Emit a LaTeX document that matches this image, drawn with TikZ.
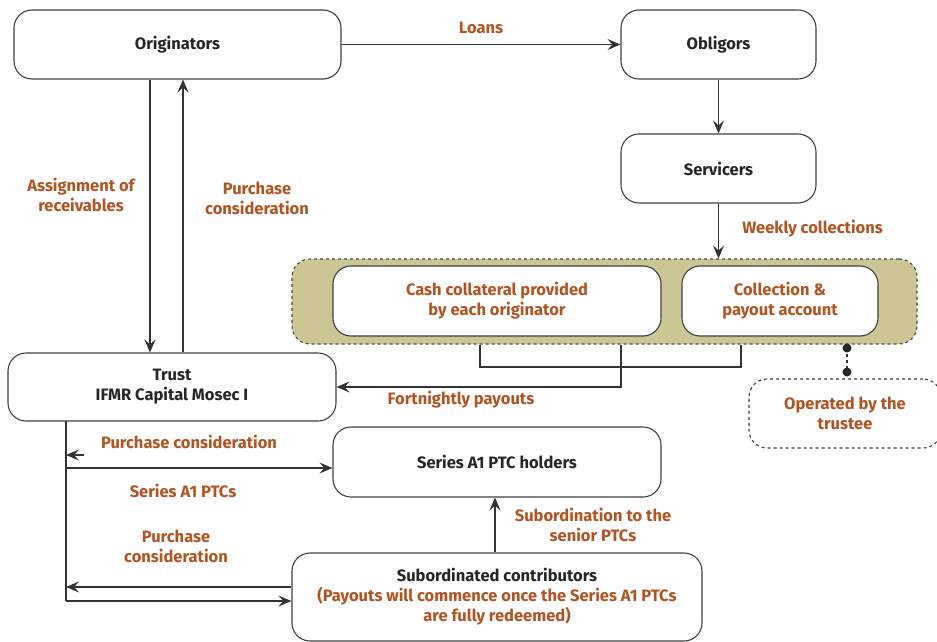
\documentclass[tikz,border=0pt]{standalone}
\usepackage{fontspec}
\setmainfont{Fira Sans}
\usetikzlibrary{arrows.meta}
\definecolor{brn}{HTML}{B4531F}
\definecolor{olv}{HTML}{CBC693}

\begin{document}
\begin{tikzpicture}[x=1pt, y=-1pt, >={Stealth[length=13pt, width=11pt, inset=5pt]}, line width=1.1pt, draw=black!80,
    box/.style={draw=black!75, rounded corners=18pt, fill=white, align=center, inner sep=0pt,
      font=\bfseries\fontsize{16.5}{20}\selectfont, text=black!85},
    lbl/.style={font=\bfseries\fontsize{16.5}{20}\selectfont, text=brn, align=center}]
        \useasboundingbox (0,0) rectangle (937,642);
        \node[draw=black!70, dashed, fill=olv, rounded corners=18pt, minimum width=625pt, minimum height=85pt] (pool) at (604.5,301.5) {};
        \node[box, minimum width=327pt, minimum height=69pt] (orig) at (177.5,44.5) {Originators};
        \node[box, minimum width=195pt, minimum height=69pt] (obl) at (718.5,44.5) {Obligors};
        \node[box, minimum width=195pt, minimum height=69pt] (serv) at (718.5,168.5) {Servicers};
        \node[box, text=brn, minimum width=328pt, minimum height=70pt] (cash) at (497,301) {Cash collateral provided\\by each originator};
        \node[box, text=brn, minimum width=196pt, minimum height=70pt] (coll) at (780,301) {Collection \&\\payout account};
        \node[box, minimum width=328pt, minimum height=68pt] (trust) at (172,387) {Trust\\IFMR Capital Mosec I};
        \node[box, dashed, text=brn, minimum width=192pt, minimum height=69pt] (oper) at (845,413.5) {Operated by the\\trustee};
        \node[box, minimum width=328pt, minimum height=70pt] (hold) at (497,462) {Series A1 PTC holders};
        \node[box, minimum width=410pt, minimum height=88pt] (sub) at (497,597) {Subordinated contributors\\\textcolor{brn}{(Payouts will commence once the Series A1 PTCs}\\\textcolor{brn}{are fully redeemed)}};
        \coordinate (rail) at (66,421);
        \coordinate (pc) at (84,455);
        \coordinate (d1) at (847,348);
        \coordinate (d2) at (847,372);
        % top row
        \draw[->] (orig) -- (obl) node[lbl, midway, above=7pt] {Loans};
        \draw[->] (obl) -- (serv);
        \draw[->] (serv) -- (pool.north -| serv) node[lbl, pos=0.45, right=20pt] {Weekly collections};
        % originators and trust
        \draw[->] (orig.south -| 150,0) -- (trust.north -| 150,0);
        \draw[->] (trust.north -| 183,0) -- (orig.south -| 183,0);
        \node[lbl] at (81,195) {Assignment of\\receivables};
        \node[lbl] at (257,198) {Purchase\\consideration};
        % payouts to the trust
        \draw (pool.south -| 480,0) -- (480,367) -- (741,367) -- (pool.south -| 741,0);
        \draw[->] (pool.south -| 621,0) |- (trust.east);
        \node[lbl] at (461,400) {Fortnightly payouts};
        \draw[dashed] (d1) -- (d2);
        \fill[black!85] (d1) circle (4.5pt) (d2) circle (4.5pt);
        % trust to investors
        \draw (rail) -- (66,601);
        \draw[->] (pc) -- (pc -| rail);
        \draw[->] (rail |- 0,468) -- (hold.west |- 0,468);
        \draw[->] (sub.west |- 0,587) -- (rail |- 0,587);
        \draw[->] (rail |- 0,601) -- (sub.west |- 0,601);
        \node[lbl] at (189,442) {Purchase consideration};
        \node[lbl] at (183,491) {Series A1 PTCs};
        \node[lbl] at (176,546) {Purchase\\consideration};
        \draw[->] (sub.north -| 495,0) -- (hold.south -| 495,0);
        \node[lbl] at (593,525) {Subordination to the\\senior PTCs};
      \end{tikzpicture}
\end{document}
